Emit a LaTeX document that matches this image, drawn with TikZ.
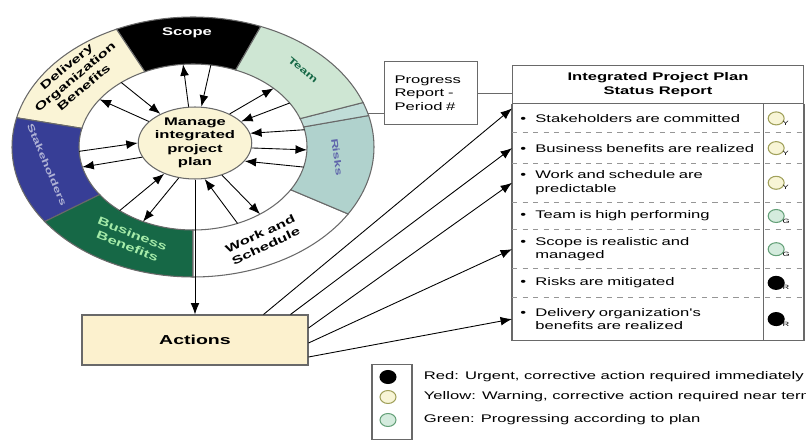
\documentclass[tikz,border=0pt]{standalone}
\usepackage{fontspec}
\newfontfamily\diagfont{Liberation Sans}[FakeStretch=1.5]
\usepackage{xcolor}
\usepackage{tikz}
\usetikzlibrary{calc, arrows.meta, positioning, shapes.geometric}

\definecolor{cream}{RGB}{250,244,214}
\definecolor{actfill}{RGB}{252,241,206}
\definecolor{stakeblue}{RGB}{55,62,150}
\definecolor{bizgreen}{RGB}{22,104,70}
\definecolor{teamgreen}{RGB}{206,230,211}
\definecolor{riskblue}{RGB}{176,210,205}
\definecolor{stripblue}{RGB}{192,221,216}
\definecolor{ringline}{RGB}{105,105,105}
\definecolor{yelfill}{RGB}{248,245,214}
\definecolor{yelline}{RGB}{160,160,90}
\definecolor{grnfill}{RGB}{212,235,221}
\definecolor{grnline}{RGB}{100,160,120}

\tikzset{
  flow/.style={-{Latex[length=6.5pt,width=5pt]}, line width=0.5pt},
  link/.style={line width=0.5pt, draw=ringline},
  rowbox/.style={rectangle, inner xsep=0.16cm, inner ysep=1pt, text width=4.7cm, align=left},
  rowsep/.style={dashed, draw=ringline!70, line width=0.5pt},
  status/.style={ellipse, minimum width=0.32cm, minimum height=0.26cm, inner sep=0pt, line width=0.6pt},
  statusY/.style={status, fill=yelfill, draw=yelline},
  statusG/.style={status, fill=grnfill, draw=grnline},
  statusR/.style={status, fill=black, draw=black},
  flag/.style={anchor=west, inner sep=0pt, font=\diagfont\fontsize{3.5}{4}\selectfont},
  ringlabel/.style={align=center, inner sep=0pt, font=\diagfont\fontsize{6.3}{7.6}\selectfont\bfseries},
  smalllabel/.style={ringlabel, font=\diagfont\fontsize{5.3}{6.5}\selectfont\bfseries}
}

\newcommand{\bul}{\makebox[0.3cm][l]{\textbullet}}

\begin{document}
\begin{tikzpicture}[x=0.02cm, y=-0.02cm, font=\diagfont\fontsize{6.3}{7.6}\selectfont]

        \useasboundingbox (0,0) rectangle (806,443);

        %% Ring
        \foreach \a/\b/\col in {68/115/black, 115/167/cream, 167/215/stakeblue, 215/270/bizgreen, 270/329/white, 329/374/riskblue, 374/380/stripblue, 380/428/teamgreen}
            \filldraw[fill=\col, draw=ringline, line width=0.6pt] plot[domain=\a:\b, samples=30] ({193+181*cos(\x)},{147-130*sin(\x)}) -- plot[domain=\b:\a, samples=30] ({193+114*cos(\x)},{147-83*sin(\x)}) -- cycle;

        %% Ring labels
        \node (scopelbl) [ringlabel, text=white] at (187,33) {Scope};
        \node (teamlbl) [smalllabel, text=bizgreen, rotate=-40] at (303,70) {Team};
        \node (risklbl) [smalllabel, text=stakeblue!80, rotate=-82] at (337,157) {Risks};
        \node (worklbl) [ringlabel, rotate=25] at (263,240) {Work and\\Schedule};
        \node (bizlbl) [ringlabel, text=teamgreen!80!green, rotate=-22] at (130,240) {Business\\Benefits};
        \node (stakelbl) [smalllabel, text=stakeblue!40!white, rotate=-67] at (47,165) {Stakeholders};
        \node (deliverylbl) [ringlabel, rotate=40] at (75,77) {Delivery\\Organization\\Benefits};

        %% Centre
        \node (plan) [ellipse, draw=ringline, line width=0.6pt, fill=cream, minimum width=2.1cm, minimum height=1.44cm, ringlabel] at (195,143) {Manage\\integrated\\project\\plan};

        %% Points on the inner edge of the ring
        \foreach \n/\t in {o1/95, o2/81, o3/129, o4/145, o5/45, o6/32, o7/12, o8/-2, o9/-14, o10/-54, o11/-67, o12/-116, o13/-130, o14/183, o15/194}
            \coordinate (\n) at ({193+114*cos(\t)},{147-83*sin(\t)});

        %% Arrows out of the plan
        \foreach \n/\a in {o1/100, o4/155, o5/40, o8/-5, o10/-50, o12/-115, o15/195}
            \draw[flow] (plan.\a) -- (\n);

        %% Arrows into the plan
        \foreach \n/\a in {o2/80, o3/140, o6/25, o7/10, o9/-20, o11/-75, o13/-135, o14/180}
            \draw[flow] (\n) -- (plan.\a);

        %% Actions
        \node (actions) [rectangle, draw=ringline, line width=0.6pt, fill=actfill, minimum width=4.52cm, minimum height=1cm, font=\diagfont\fontsize{7.4}{8}\selectfont\bfseries] at (195,340) {Actions};
        \draw[flow] (plan.south) -- (actions.north);

        %% Progress report
        \node (progress) [rectangle, draw=ringline, line width=0.6pt, inner xsep=0.2cm, text width=1.46cm, minimum height=1.26cm, align=left] at (431,93) {Progress\\Report -\\Period \#};
        \coordinate (rk) at ({193+181*cos(15)},{147-130*sin(15)});
        \draw[link] (rk) -- (rk -| progress.west);

        %% Status report table
        \node (head) [rectangle, draw=ringline, line width=0.6pt, anchor=north west, minimum width=5.82cm, minimum height=0.76cm, align=center, font=\diagfont\fontsize{6.3}{7.6}\selectfont\bfseries] at (512,65) {Integrated Project Plan\\Status Report};
        \draw[link] (progress.east) -- (progress.east -| head.west);

        \node (r1) [rowbox, minimum height=0.56cm, below right=0pt and 0pt of head.south west] {\bul Stakeholders are committed};
        \node (r2) [rowbox, minimum height=0.6cm, below=0pt of r1] {\bul Business benefits are realized};
        \node (r3) [rowbox, minimum height=0.76cm, below=0pt of r2] {\bul Work and schedule are\\\hspace*{0.3cm}predictable};
        \node (r4) [rowbox, minimum height=0.54cm, below=0pt of r3] {\bul Team is high performing};
        \node (r5) [rowbox, minimum height=0.76cm, below=0pt of r4] {\bul Scope is realistic and\\\hspace*{0.3cm}managed};
        \node (r6) [rowbox, minimum height=0.56cm, below=0pt of r5] {\bul Risks are mitigated};
        \node (r7) [rowbox, minimum height=0.86cm, below=0pt of r6] {\bul Delivery organization's\\\hspace*{0.3cm}benefits are realized};

        \draw[link, line width=0.6pt] (head.south west) -- (r7.south west) -- (r7.south west -| head.east) -- (head.south east);
        \draw[link, line width=0.6pt] (r1.north east) -- (r7.south east);
        \foreach \r in {r1, r2, r3, r4, r5, r6}
            \draw[rowsep] (\r.south west) -- (\r.south west -| head.east);

        %% Status lights
        \foreach \r/\s/\f in {r1/statusY/Y, r2/statusY/Y, r3/statusY/Y, r4/statusG/G, r5/statusG/G, r6/statusR/R, r7/statusR/R} {
            \node (s\r) [\s, right=0.08cm of \r] {};
            \node (f\r) [flag] at (s\r.south east) {\f};
        }

        %% Actions to the report
        \draw[flow] ($(actions.north east)+(-45,0)$) -- ($(r1.west)+(0,-10)$);
        \draw[flow] ($(actions.north east)+(-18,0)$) -- (r2.west);
        \draw[flow] ($(actions.east)+(0,-12)$) -- (r3.west);
        \draw[flow] ($(actions.east)+(0,3)$) -- (r5.west);
        \draw[flow] ($(actions.east)+(0,17)$) -- (r7.west);

        %% Legend
        \node (legbox) [rectangle, draw=ringline, line width=0.6pt, minimum width=0.8cm, minimum height=1.5cm] at (392,402) {};
        \node (k1) [statusR] at (388,377) {};
        \node (k2) [statusY] at (388,397) {};
        \node (k3) [statusG] at (388,420) {};
        \node (t1) [anchor=west, inner xsep=0pt, right=0.54cm of k1] {Red: Urgent, corrective action required immediately};
        \node (t2) [anchor=west, inner xsep=0pt, right=0.54cm of k2] {Yellow: Warning, corrective action required near term};
        \node (t3) [anchor=west, inner xsep=0pt, right=0.54cm of k3] {Green: Progressing according to plan};

\end{tikzpicture}
\end{document}
